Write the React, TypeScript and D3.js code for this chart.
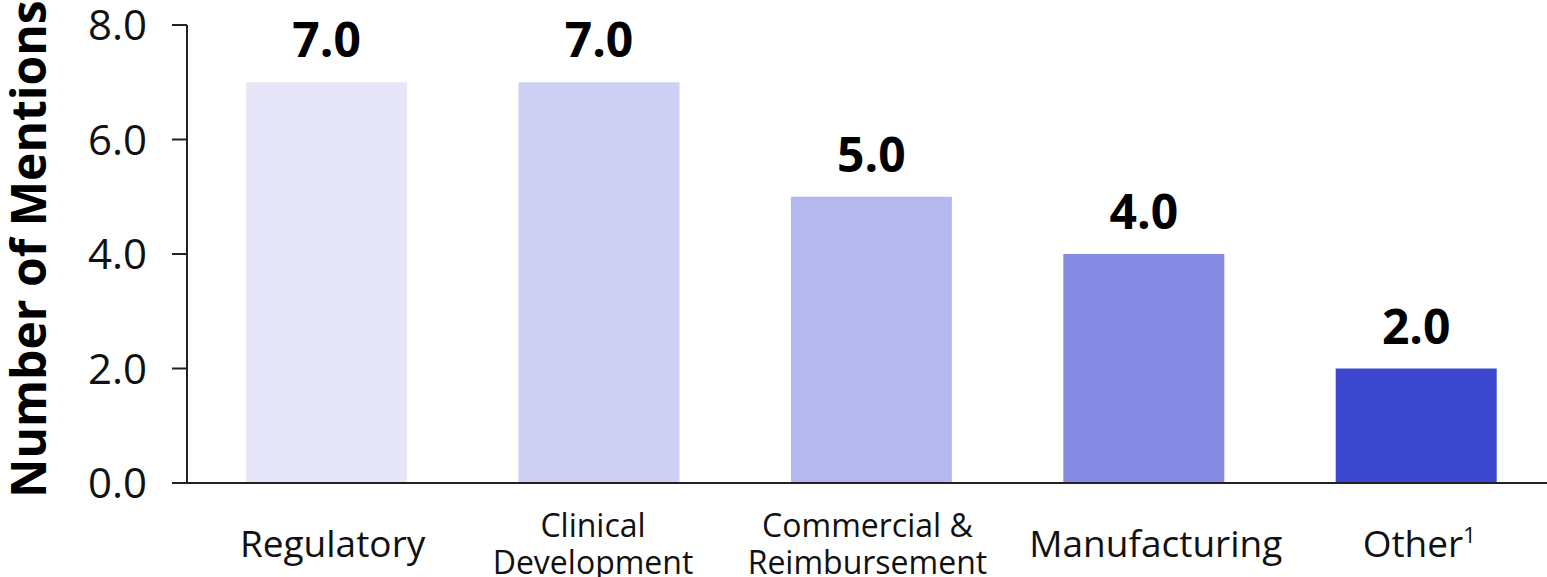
import React from "react";
import * as d3 from "d3";

const categories = ["Regulatory", "Clinical Development", "Commercial & Reimbursement", "Manufacturing", "Other"];
const labelLines = [["Regulatory"], ["Clinical", "Development"], ["Commercial &", "Reimbursement"], ["Manufacturing"], ["Other"]];
const labelSup = ["", "", "", "", "1"];
const values = [7, 7, 5, 4, 2];
const colors = ["#E6E6F8", "#CDD0F3", "#B5B8EE", "#858BE2", "#3A47CE"];
const yTicks = [0, 2, 4, 6, 8];
const labelDx = [6, -6, -4, 12, 3];

export default function App() {
  const W = 1547, H = 577;
  const x0 = 187;
  const step = 272.4;
  const pIn = 0.409, pOut = 0.217;
  const x = d3.scaleBand<string>().domain(categories)
    .range([x0, x0 + step * (categories.length - pIn + 2 * pOut)])
    .paddingInner(pIn).paddingOuter(pOut);
  const y = d3.scaleLinear().domain([0, 8]).range([483, 25]);
  const fmt = d3.format(".1f");
  const font = "'Open Sans', 'Noto Sans', sans-serif";
  return (
    <svg width={W} height={H} style={{ position: "absolute", left: 0, top: 0, background: "#fff" }} fontFamily={font}>
      <text transform={`translate(46,249) rotate(-90)`} textAnchor="middle" fontWeight="bold" fontSize={48} fill="#000">Number of Mentions</text>
      {yTicks.map(t => (
        <g key={t}>
          <line x1={x0 - 15} x2={x0} y1={y(t)} y2={y(t)} stroke="#222" strokeWidth={2} />
          <text x={147} y={y(t) + 15} textAnchor="end" fontSize={42} fill="#111">{fmt(t)}</text>
        </g>
      ))}
      <line x1={x0} x2={x0} y1={y(8)} y2={y(0)} stroke="#222" strokeWidth={2} />
      {categories.map((c, i) => (
        <rect key={c} x={x(c)} y={y(values[i])} width={x.bandwidth()} height={y(0) - y(values[i])} fill={colors[i]} />
      ))}
      <line x1={x0 - 15} x2={W} y1={y(0)} y2={y(0)} stroke="#222" strokeWidth={2} />
      {categories.map((c, i) => (
        <text key={c} x={x(c)! + x.bandwidth() / 2} y={y(values[i]) - 25} textAnchor="middle" fontWeight="bold" fontSize={48} fill="#000">{fmt(values[i])}</text>
      ))}
      {categories.map((c, i) => {
        const cx = x(c)! + x.bandwidth() / 2 + labelDx[i];
        const lines = labelLines[i];
        if (lines.length === 1) {
          return (
            <text key={c} x={cx} y={557} textAnchor="middle" fontSize={37} fill="#111">
              {lines[0]}
              {labelSup[i] && <tspan fontSize={22} dy={-14}>{labelSup[i]}</tspan>}
            </text>
          );
        }
        return (
          <text key={c} x={cx} textAnchor="middle" fontSize={32} fill="#111">
            {lines.map((l, j) => <tspan key={j} x={cx} y={537 + j * 37}>{l}</tspan>)}
          </text>
        );
      })}
    </svg>
  );
}
